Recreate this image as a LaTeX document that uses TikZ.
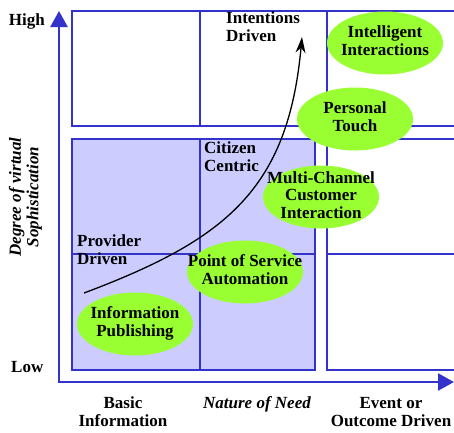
\documentclass[tikz,border=0pt]{standalone}
\usepackage{fontspec}
\setmainfont{Liberation Serif}
\usetikzlibrary{calc,arrows.meta,shapes.geometric}

\definecolor{axisblue}{RGB}{51,51,204}
\definecolor{needfill}{RGB}{204,204,255}
\definecolor{stagegreen}{RGB}{153,255,51}
\newcommand{\labelfont}{\fontsize{17}{17.5}\selectfont\bfseries}

\tikzset{
	grid line/.style={draw=axisblue, line width=2pt},
	stage/.style={ellipse, fill=stagegreen, minimum width=116pt, minimum height=63pt, inner sep=0pt},
	tag/.style={inner sep=0pt, font=\labelfont},
	slanted tag/.style={inner sep=0pt, font=\labelfont\itshape}
}

\begin{document}
\begin{tikzpicture}[x=1pt,y=-1pt,>={Triangle[length=16pt,width=17pt]}]
	\useasboundingbox (0,0) rectangle (454,432);

	% define the coordinates of the axes
	\coordinate (O) at (59,382);
	\coordinate (Y) at (59,11);
	\coordinate (X) at (454,382);

	% shaded block, lower left
	\fill[needfill] (72,139) rectangle (315,370);
	\draw[grid line] (72,139) rectangle (315,370) (200,139) -- (200,370) (72,254) -- (315,254);
	% upper block
	\draw[grid line] (454,11) -- (72,11) -- (72,126) -- (454,126) (200,11) -- (200,126) (327,11) -- (327,126);
	% lower right block
	\draw[grid line] (454,139) -- (327,139) -- (327,370) -- (454,370) (327,254) -- (454,254);

	% draw both axes
	\draw[axisblue, line width=2.5pt, <->] (Y) -- (O) -- (X);

	% labels of the axes
	\node[tag, anchor=east] (High) at (45,21) {High};
	\node[tag, anchor=west] (Low) at (11,367) {Low};
	\node[slanted tag, rotate=90] (Deg) at (26,197) {
		\begin{tabular}{@{}c@{}}
			Degree of virtual\\
			Sophistication
		\end{tabular}
	};
	\node[tag] (Basic) at (123,414) {
		\begin{tabular}{@{}c@{}}
			Basic\\
			Information
		\end{tabular}
	};
	\node[slanted tag] (Need) at (257,404) {Nature of Need};
	\node[tag] (Event) at (391,414) {
		\begin{tabular}{@{}c@{}}
			Event or\\
			Outcome Driven
		\end{tabular}
	};

	% labels of the blocks
	\node[tag, anchor=west] (Prov) at (77,252) {
		\begin{tabular}{@{}l@{}}
			Provider\\
			Driven
		\end{tabular}
	};
	\node[tag, anchor=west] (Cit) at (204,159) {
		\begin{tabular}{@{}l@{}}
			Citizen\\
			Centric
		\end{tabular}
	};
	\node[tag, anchor=west] (Int) at (226,29) {
		\begin{tabular}{@{}l@{}}
			Intentions\\
			Driven
		\end{tabular}
	};

	% the stages, text set on top of each ellipse
	\node[stage] (IP) at (135,324) {};
	\node[tag] (IPtext) at (IP) {
		\begin{tabular}{@{}c@{}}
			Information\\
			Publishing
		\end{tabular}
	};
	\node[stage] (PS) at (245,272) {};
	\node[tag] (PStext) at (PS) {
		\begin{tabular}{@{}c@{}}
			Point of Service\\
			Automation
		\end{tabular}
	};
	\node[stage] (MC) at (321,197) {};
	\node[tag] (MCtext) at (MC) {
		\begin{tabular}{@{}c@{}}
			Multi-Channel\\
			Customer\\
			Interaction
		\end{tabular}
	};
	\node[stage] (PT) at (355,119) {};
	\node[tag] (PTtext) at (PT) {
		\begin{tabular}{@{}c@{}}
			Personal\\
			Touch
		\end{tabular}
	};
	\node[stage] (II) at (385,43) {};
	\node[tag] (IItext) at (II) {
		\begin{tabular}{@{}c@{}}
			Intelligent\\
			Interactions
		\end{tabular}
	};

	% growth curve
	\coordinate (S) at (84,293);
	\coordinate (T) at (302,37);
	\draw[line width=1.3pt, -{Stealth[length=16pt,width=10pt]}] (S) .. controls (225,240) and (288,190) .. (T);
\end{tikzpicture}
\end{document}
